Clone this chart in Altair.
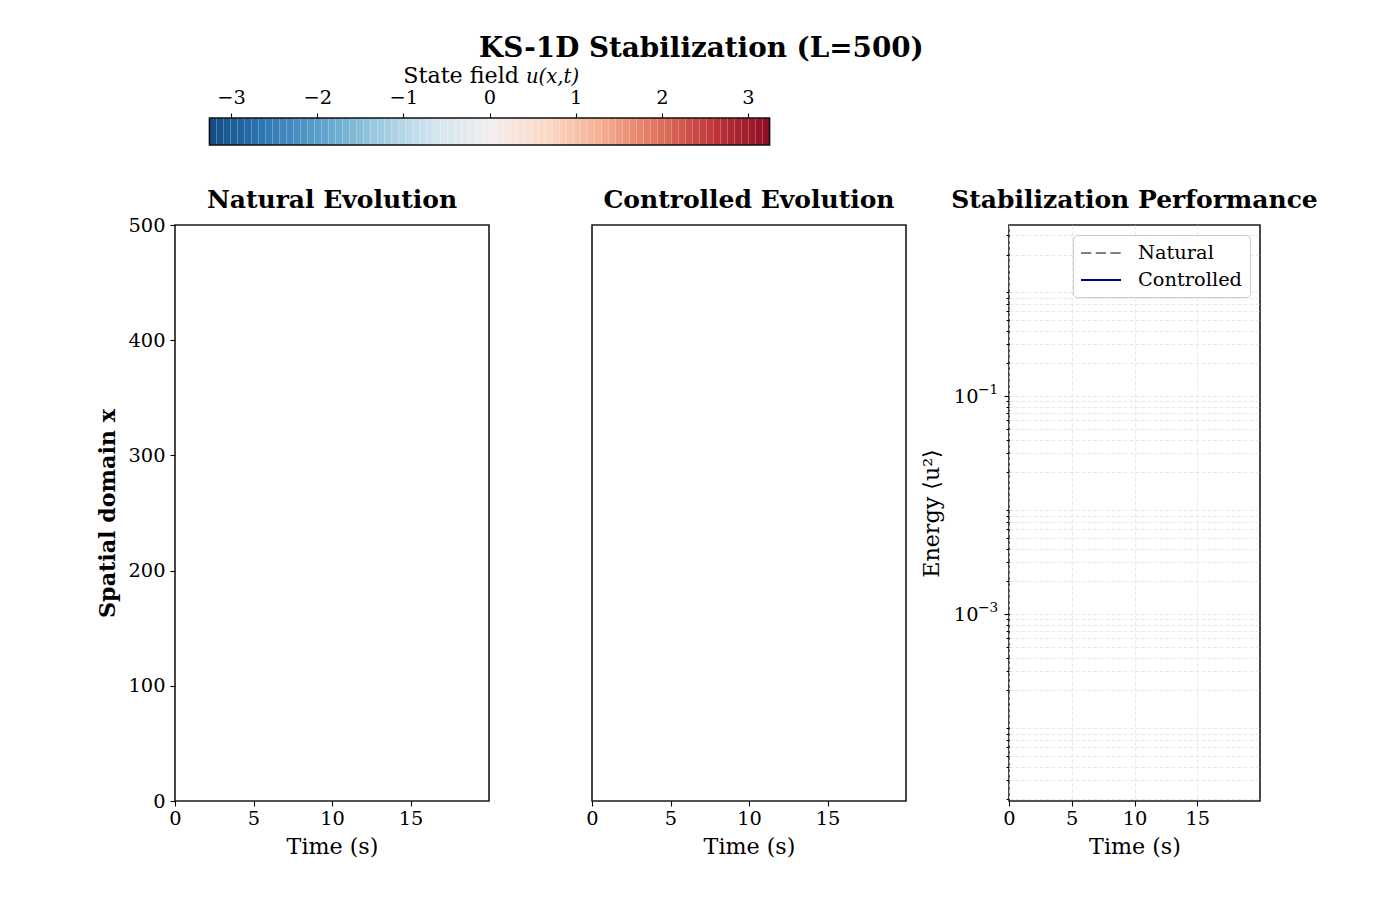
import altair as alt
import numpy as np
import pandas as pd

FONT = "DejaVu Serif"

# Simulation output: the solver returned no finite samples to draw,
# so the field and energy tables are empty.
natural_field = []      # rows of {"t", "x", "u"}
controlled_field = []   # rows of {"t", "x", "u"}
energy_rows = []        # rows of {"t", "energy", "series"}

# Axes
time_limits = [0, 20]
time_ticks = [0, 5, 10, 15]
space_limits = [0, 500]
space_ticks = [0, 100, 200, 300, 400, 500]
energy_limits = [1.936e-5, 3.73]
energy_major = [1e-1, 1e-3]
energy_major_exp = ["\u22121", "\u22123"]
energy_mantissas = [2, 3, 4, 5, 6, 7, 8, 9]
energy_decades = [-5, -4, -3, -2, -1, 0]

# Colour bar for u(x, t)
u_limit = 3.25
cbar_ticks = [-3, -2, -1, 0, 1, 2, 3]
cbar_levels = 80

# Legend entries
series_names = ["Natural", "Controlled"]
series_colors = ["#808080", "#000080"]
series_dashes = [[10.3, 4.4], [1, 0]]

energy_minor = [m * 10.0 ** k for k in energy_decades for m in energy_mantissas]
energy_minor = [v for v in energy_minor if energy_limits[0] <= v <= energy_limits[1]]
energy_ticks = sorted(energy_minor + energy_major)

TICK_FS = 19.4
LABEL_FS = 22.2

field_scale = alt.Scale(scheme="redblue", reverse=True, domain=[-u_limit, u_limit])
time_scale = alt.Scale(domain=time_limits, nice=False, zero=False)
space_scale = alt.Scale(domain=space_limits, nice=False, zero=False)
time_axis = alt.Axis(values=time_ticks, title="Time (s)")

PANEL_W, PANEL_H = 314, 576


def field_panel(rows, title, show_y, title_offset):
    y_axis = (
        alt.Axis(values=space_ticks, title="Spatial domain x", titleFontWeight="bold", labelPadding=5)
        if show_y
        else None
    )
    return (
        alt.Chart(alt.Data(values=rows))
        .mark_rect()
        .encode(
            x=alt.X("t:Q", scale=time_scale, axis=time_axis),
            y=alt.Y("x:Q", scale=space_scale, axis=y_axis),
            color=alt.Color("u:Q", scale=field_scale, legend=None),
        )
        .properties(width=PANEL_W, height=PANEL_H, title=alt.Title(title, offset=title_offset))
    )


natural = field_panel(natural_field, "Natural Evolution", True, 2)
controlled = field_panel(controlled_field, "Controlled Evolution", False, 12)

major_test = "datum.value === 0.1 || datum.value === 0.001"
energy_y_scale = alt.Scale(type="log", domain=energy_limits, nice=False)
energy_lines = (
    alt.Chart(alt.Data(values=energy_rows))
    .mark_line(strokeWidth=2)
    .encode(
        x=alt.X(
            "t:Q",
            scale=time_scale,
            axis=alt.Axis(
                values=time_ticks, title="Time (s)", grid=True,
                gridDash=[4, 2], gridColor="#e3e3e3", gridWidth=0.8,
            ),
        ),
        y=alt.Y(
            "energy:Q",
            scale=energy_y_scale,
            axis=alt.Axis(
                values=energy_ticks,
                title="Energy ⟨u²⟩",
                labelExpr=f"({major_test}) ? '10' : ''",
                labelPadding=26,
                tickSize={"condition": {"test": major_test, "value": 5}, "value": 3},
                grid=True, gridDash=[4, 2], gridColor="#e3e3e3", gridWidth=0.8,
                titlePadding=10,
            ),
        ),
        color=alt.Color(
            "series:N",
            scale=alt.Scale(domain=series_names, range=series_colors),
            legend=alt.Legend(title=None),
        ),
        strokeDash=alt.StrokeDash(
            "series:N",
            scale=alt.Scale(domain=series_names, range=series_dashes),
            legend=alt.Legend(title=None),
        ),
    )
)
# exponents of the labelled decades, set as superscripts beside "10"
energy_exps = (
    alt.Chart(pd.DataFrame({"v": energy_major, "e": energy_major_exp}))
    .mark_text(align="left", baseline="middle", font=FONT, fontSize=13.6, dy=-6, color="black")
    .encode(x=alt.value(-31), y=alt.Y("v:Q", scale=energy_y_scale), text="e:N")
)
energy = alt.layer(energy_lines, energy_exps).properties(
    width=251, height=PANEL_H, title=alt.Title("Stabilization Performance", offset=12)
)

panels = alt.hconcat(natural, controlled, energy, spacing=103, bounds="flush").resolve_scale(
    color="independent", strokeDash="independent"
)

# Colour bar: stepped swatches, a frame, tick labels on top
edges = np.linspace(-u_limit, u_limit, cbar_levels + 1)
cbar_df = pd.DataFrame({"lo": edges[:-1], "hi": edges[1:], "mid": (edges[:-1] + edges[1:]) / 2})
cbar_x = alt.X(
    "lo:Q",
    scale=alt.Scale(domain=[-3.65, 3.255], nice=False, zero=False),
    axis=alt.Axis(
        orient="top", values=cbar_ticks, title=None, labelPadding=6,
        labelExpr="datum.value < 0 ? '\u2212' + abs(datum.value) : '' + datum.value",
    ),
)
cells = alt.Chart(cbar_df).mark_rect().encode(
    x=cbar_x, x2="hi:Q", color=alt.Color("mid:Q", scale=field_scale, legend=None)
)
frame = (
    alt.Chart(pd.DataFrame({"lo": [-u_limit], "hi": [u_limit]}))
    .mark_rect(filled=False, stroke="#111111", strokeWidth=1.6)
    .encode(x=alt.X("lo:Q"), x2="hi:Q")
)
cbar_label = (
    alt.Chart(alt.Data(values=[{}]))
    .mark_text(text="State field", align="right", baseline="alphabetic", font=FONT, fontSize=22.2)
    .encode(x=alt.value(344), y=alt.value(-35))
)
cbar_math = (
    alt.Chart(alt.Data(values=[{}]))
    .mark_text(text="u(x,t)", align="left", baseline="alphabetic", font=FONT, fontSize=19.6, fontStyle="italic")
    .encode(x=alt.value(351), y=alt.value(-35))
)
colorbar = alt.layer(cells, frame, cbar_label, cbar_math).properties(
    width=595, height=27, view=alt.ViewBackground(strokeWidth=0)
)

chart = (
    alt.vconcat(colorbar, panels, spacing=80, bounds="flush")
    .resolve_scale(color="independent", strokeDash="independent")
    .properties(
        title=alt.Title(
            "KS-1D Stabilization (L=500)", fontSize=27.8, fontWeight="bold", anchor="middle",
            offset=2, dx=-6,
        ),
        padding={"left": 96, "top": 35, "right": 10, "bottom": 10},
    )
    .configure(background="white")
    .configure_view(stroke="#1a1a1a", strokeWidth=1.6)
    .configure_title(font=FONT, fontSize=25, fontWeight="bold", color="black")
    .configure_axis(
        labelFont=FONT, titleFont=FONT, labelFontSize=TICK_FS, titleFontSize=LABEL_FS,
        titleFontWeight="normal", labelColor="black", titleColor="black",
        tickColor="black", tickWidth=1.1, tickSize=5, domain=False, grid=False,
        labelPadding=3, titlePadding=8, labelFlush=False,
    )
    .configure_legend(
        orient="top-right", offset=10, fillColor="white", strokeColor="#cccccc",
        cornerRadius=4, padding=7, labelFont=FONT, labelFontSize=19.4, labelColor="black",
        symbolType="M-2,0H2", symbolSize=400, symbolStrokeWidth=2, symbolOffset=10,
        labelOffset=26, rowPadding=6,
    )
)

chart.save("out.html", embed_options={"renderer": "svg", "actions": False})
